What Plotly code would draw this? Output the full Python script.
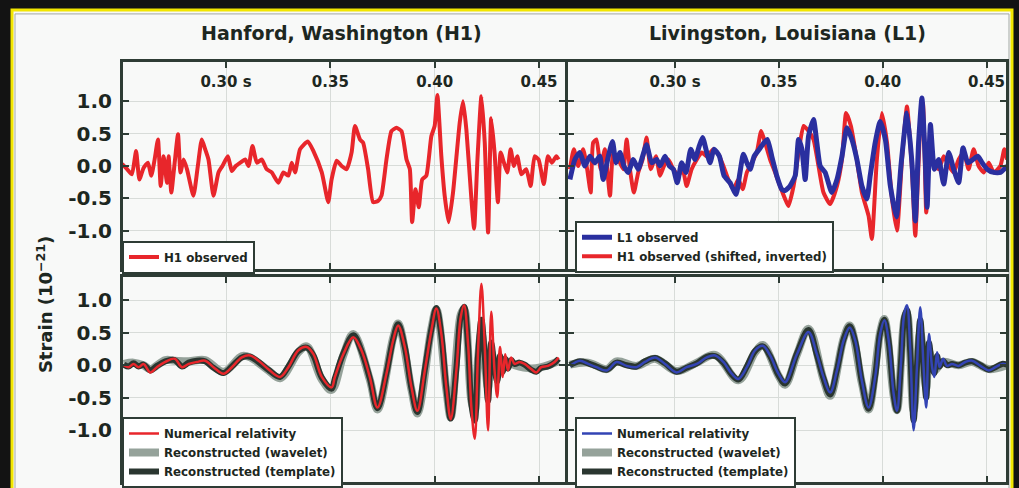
import plotly.graph_objects as go

# ---------------- data (time in s, strain in 1e-21) ----------------
X_TICKS = [0.30, 0.35, 0.40, 0.45]
X_TICK_TEXT = ["0.30 s", "0.35", "0.40", "0.45"]
Y_TICKS = [1.0, 0.5, 0.0, -0.5, -1.0]
Y_TICK_TEXT = ["1.0", "0.5", "0.0", "-0.5", "-1.0"]

H1_OBSERVED = [
    (0.2502, 0.03), (0.2526, -0.05), (0.2549, -0.13), (0.2569, 0.23), (0.2585, -0.21), (0.2605, -0.03),
    (0.2626, 0.05), (0.2642, -0.15), (0.2658, 0.10), (0.2674, 0.41), (0.2687, -0.31), (0.2701, 0.15),
    (0.2717, -0.26), (0.2725, 0.15), (0.2738, -0.41), (0.2754, 0.05), (0.2770, 0.49), (0.2782, -0.10),
    (0.2797, 0.10), (0.2813, -0.05), (0.2844, -0.46), (0.2865, 0.0), (0.2884, 0.41), (0.2900, 0.26),
    (0.2916, 0.10), (0.2940, -0.46), (0.2964, -0.10), (0.2983, 0.0), (0.3009, 0.15), (0.3028, -0.08),
    (0.3047, 0.0), (0.3068, 0.05), (0.3092, 0.10), (0.3108, 0.0), (0.3127, 0.31), (0.3148, 0.05),
    (0.3171, 0.10), (0.3195, -0.05), (0.3219, -0.10), (0.3251, -0.26), (0.3275, -0.10), (0.3299, -0.15),
    (0.3315, 0.05), (0.3331, -0.10), (0.3355, 0.26), (0.3392, 0.38), (0.3419, 0.23), (0.3459, -0.10),
    (0.3490, -0.56), (0.3506, -0.21), (0.3530, 0.08), (0.3554, 0.0), (0.3578, -0.05), (0.3602, 0.21),
    (0.3618, 0.62), (0.3642, 0.41), (0.3657, 0.36), (0.3681, -0.05), (0.3705, -0.56), (0.3729, -0.54),
    (0.3745, -0.46), (0.3769, 0.10), (0.3793, 0.54), (0.3817, 0.59), (0.3841, 0.54), (0.3865, 0.10),
    (0.3881, -0.05), (0.3892, -0.87), (0.3908, -0.36), (0.3924, -0.64), (0.3940, -0.21), (0.3960, -0.15),
    (0.3984, 0.46), (0.4000, 0.62), (0.4013, 1.10), (0.4032, 0.15), (0.4048, -0.46), (0.4067, -0.87),
    (0.4088, -0.41), (0.4120, 0.67), (0.4136, 1.00), (0.4152, 0.56), (0.4176, -0.51), (0.4189, -0.97),
    (0.4205, 0.10), (0.4224, 1.08), (0.4240, 0.36), (0.4256, -1.03), (0.4271, 0.74), (0.4287, 0.21),
    (0.4303, -0.56), (0.4316, 0.21), (0.4332, 0.05), (0.4348, -0.10), (0.4364, 0.26), (0.4380, 0.0),
    (0.4396, 0.15), (0.4415, -0.13), (0.4439, -0.05), (0.4460, -0.31), (0.4479, 0.15), (0.4498, 0.10),
    (0.4523, -0.28), (0.4543, 0.15), (0.4562, 0.05), (0.4583, 0.15), (0.4594, 0.10),
]

L1_OBSERVED = [
    (0.2494, -0.21), (0.2518, 0.10), (0.2542, 0.21), (0.2566, 0.0), (0.2590, 0.15), (0.2614, 0.05),
    (0.2638, 0.15), (0.2654, -0.21), (0.2679, 0.15), (0.2699, 0.38), (0.2716, 0.05), (0.2735, 0.21),
    (0.2754, 0.0), (0.2775, -0.10), (0.2799, 0.10), (0.2823, -0.05), (0.2844, 0.15), (0.2863, 0.33),
    (0.2888, 0.05), (0.2912, 0.10), (0.2928, 0.0), (0.2952, 0.15), (0.2973, 0.0), (0.2992, -0.05),
    (0.3011, -0.26), (0.3032, 0.05), (0.3053, -0.10), (0.3076, 0.26), (0.3096, 0.10), (0.3117, 0.31),
    (0.3133, 0.44), (0.3153, 0.21), (0.3169, 0.05), (0.3188, 0.26), (0.3214, 0.15), (0.3236, -0.15),
    (0.3265, -0.26), (0.3294, -0.44), (0.3313, -0.10), (0.3329, 0.18), (0.3346, 0.05), (0.3362, -0.05),
    (0.3381, 0.15), (0.3406, 0.26), (0.3429, 0.36), (0.3445, 0.41), (0.3466, 0.15), (0.3490, -0.15),
    (0.3514, -0.36), (0.3530, -0.38), (0.3554, -0.31), (0.3579, -0.15), (0.3595, 0.41), (0.3611, 0.26),
    (0.3627, -0.21), (0.3643, 0.46), (0.3667, 0.72), (0.3683, 0.36), (0.3699, 0.0), (0.3723, -0.10),
    (0.3755, -0.41), (0.3780, -0.21), (0.3804, 0.15), (0.3828, 0.59), (0.3852, 0.41), (0.3876, 0.10),
    (0.3900, -0.31), (0.3924, -0.51), (0.3940, -0.15), (0.3964, 0.36), (0.3988, 0.69), (0.4013, 0.41),
    (0.4037, -0.31), (0.4066, -0.79), (0.4088, 0.0), (0.4117, 0.82), (0.4141, 0.05), (0.4157, -0.85),
    (0.4173, 0.36), (0.4189, 1.05), (0.4205, 0.10), (0.4214, -0.64), (0.4230, 0.64), (0.4249, -0.05),
    (0.4270, 0.10), (0.4294, -0.28), (0.4318, 0.21), (0.4342, -0.05), (0.4366, -0.26), (0.4387, 0.28),
    (0.4410, 0.05), (0.4435, 0.10), (0.4458, 0.15), (0.4479, 0.05), (0.4503, -0.05), (0.4535, -0.10),
    (0.4567, -0.10), (0.4599, 0.0),
]

H1_SHIFTED_INVERTED = [
    (0.2494, -0.05), (0.2513, 0.26), (0.2534, 0.0), (0.2558, 0.26), (0.2577, -0.05), (0.2594, -0.41),
    (0.2606, 0.36), (0.2622, 0.41), (0.2642, -0.05), (0.2662, 0.26), (0.2687, -0.46), (0.2703, 0.21),
    (0.2727, 0.10), (0.2751, -0.05), (0.2767, 0.41), (0.2783, -0.05), (0.2802, -0.41), (0.2823, -0.10),
    (0.2844, 0.10), (0.2863, 0.44), (0.2883, -0.05), (0.2908, 0.15), (0.2928, -0.15), (0.2947, 0.0),
    (0.2968, 0.10), (0.2992, -0.05), (0.3016, -0.15), (0.3037, -0.05), (0.3056, -0.31), (0.3080, -0.05),
    (0.3105, 0.10), (0.3129, 0.21), (0.3153, 0.15), (0.3185, 0.26), (0.3209, 0.18), (0.3233, 0.0),
    (0.3257, -0.21), (0.3281, -0.36), (0.3305, -0.21), (0.3326, -0.36), (0.3346, -0.10), (0.3370, 0.05),
    (0.3394, 0.21), (0.3415, 0.54), (0.3434, 0.36), (0.3458, 0.10), (0.3482, -0.10), (0.3506, -0.31),
    (0.3530, -0.51), (0.3546, -0.62), (0.3571, -0.31), (0.3595, 0.21), (0.3619, 0.62), (0.3643, 0.54),
    (0.3667, 0.41), (0.3691, 0.0), (0.3715, -0.41), (0.3747, -0.59), (0.3780, -0.31), (0.3804, 0.10),
    (0.3824, 0.82), (0.3847, 0.62), (0.3873, 0.15), (0.3900, -0.41), (0.3932, -0.77), (0.3948, -1.13),
    (0.3972, 0.10), (0.3996, 0.82), (0.4021, 0.36), (0.4045, -0.51), (0.4069, -1.00), (0.4093, 0.10),
    (0.4117, 0.92), (0.4141, -0.05), (0.4157, -1.08), (0.4181, 0.62), (0.4194, 0.97), (0.4210, -0.72),
    (0.4226, 0.21), (0.4246, 0.05), (0.4270, -0.05), (0.4294, 0.15), (0.4318, 0.0), (0.4342, -0.10),
    (0.4366, 0.10), (0.4390, 0.21), (0.4414, -0.05), (0.4438, 0.26), (0.4462, 0.0), (0.4487, -0.10),
    (0.4511, 0.05), (0.4535, -0.10), (0.4567, 0.0), (0.4586, 0.26), (0.4599, 0.10),
]

H1_NR = [
    (0.2510, 0.0), (0.2533, -0.03), (0.2557, 0.02), (0.2581, -0.03), (0.2605, 0.02), (0.2637, -0.11),
    (0.2669, -0.03), (0.2709, 0.05), (0.2754, 0.10), (0.2789, -0.03), (0.2821, 0.02), (0.2860, 0.05),
    (0.2900, 0.07), (0.2940, -0.03), (0.2988, -0.13), (0.3028, -0.03), (0.3076, 0.12), (0.3116, 0.15),
    (0.3156, 0.07), (0.3203, -0.06), (0.3259, -0.18), (0.3299, -0.03), (0.3347, 0.23), (0.3387, 0.28),
    (0.3419, 0.17), (0.3459, -0.18), (0.3506, -0.34), (0.3522, -0.18), (0.3562, 0.17), (0.3610, 0.43),
    (0.3649, 0.23), (0.3689, -0.18), (0.3726, -0.65), (0.3769, -0.13), (0.3801, 0.38), (0.3825, 0.61),
    (0.3857, 0.28), (0.3889, -0.34), (0.3917, -0.70), (0.3953, -0.08), (0.3984, 0.53), (0.4008, 0.87),
    (0.4032, 0.48), (0.4056, -0.34), (0.4077, -0.83), (0.4104, -0.08), (0.4125, 0.74), (0.4141, 0.92),
    (0.4160, 0.33), (0.4176, -0.65), (0.4192, -1.13), (0.4208, 0.23), (0.4224, 1.25), (0.4240, 0.28),
    (0.4256, -1.00), (0.4271, 0.82), (0.4287, -0.08), (0.4300, -0.49), (0.4313, 0.28), (0.4326, -0.18),
    (0.4338, 0.17), (0.4351, -0.08), (0.4367, 0.12), (0.4383, 0.02), (0.4407, 0.05), (0.4431, 0.02),
    (0.4463, -0.06), (0.4487, -0.11), (0.4511, -0.03), (0.4543, -0.01), (0.4575, 0.05), (0.4594, 0.12),
]

H1_TEMPLATE = [
    (0.2510, 0.01), (0.2533, -0.02), (0.2557, 0.03), (0.2581, -0.02), (0.2605, 0.01), (0.2637, -0.08),
    (0.2669, -0.01), (0.2709, 0.06), (0.2754, 0.08), (0.2789, -0.02), (0.2821, 0.04), (0.2860, 0.07),
    (0.2900, 0.06), (0.2940, -0.04), (0.2988, -0.12), (0.3028, -0.02), (0.3076, 0.12), (0.3116, 0.13),
    (0.3156, 0.05), (0.3203, -0.07), (0.3259, -0.18), (0.3299, -0.02), (0.3347, 0.22), (0.3387, 0.27),
    (0.3419, 0.15), (0.3459, -0.19), (0.3506, -0.36), (0.3522, -0.20), (0.3562, 0.18), (0.3610, 0.46),
    (0.3649, 0.22), (0.3689, -0.20), (0.3726, -0.66), (0.3769, -0.12), (0.3801, 0.40), (0.3825, 0.63),
    (0.3857, 0.28), (0.3889, -0.36), (0.3917, -0.72), (0.3953, -0.06), (0.3984, 0.55), (0.4008, 0.88),
    (0.4032, 0.46), (0.4056, -0.36), (0.4077, -0.82), (0.4104, -0.05), (0.4125, 0.76), (0.4141, 0.90),
    (0.4160, 0.30), (0.4176, -0.60), (0.4192, -0.85), (0.4208, 0.15), (0.4224, 0.70), (0.4240, 0.15),
    (0.4256, -0.55), (0.4271, 0.35), (0.4287, -0.05), (0.4300, -0.25), (0.4313, 0.15), (0.4326, -0.10),
    (0.4338, 0.10), (0.4351, -0.05), (0.4367, 0.08), (0.4383, 0.02), (0.4407, 0.04), (0.4431, 0.01),
    (0.4463, -0.07), (0.4487, -0.10), (0.4511, -0.04), (0.4543, -0.02), (0.4575, 0.04), (0.4594, 0.10),
]

H1_WAVELET = [
    (0.2510, 0.02), (0.2557, 0.04), (0.2605, 0.0), (0.2637, -0.06), (0.2709, 0.08), (0.2754, 0.07),
    (0.2821, 0.06), (0.2900, 0.08), (0.2988, -0.10), (0.3076, 0.14), (0.3116, 0.12), (0.3203, -0.08),
    (0.3259, -0.20), (0.3347, 0.20), (0.3387, 0.29), (0.3459, -0.22), (0.3506, -0.38), (0.3562, 0.15),
    (0.3610, 0.48), (0.3689, -0.22), (0.3726, -0.68), (0.3801, 0.42), (0.3825, 0.64), (0.3889, -0.38),
    (0.3917, -0.74), (0.3984, 0.56), (0.4008, 0.86), (0.4056, -0.38), (0.4077, -0.80), (0.4125, 0.78),
    (0.4141, 0.86), (0.4176, -0.55), (0.4192, -0.70), (0.4208, 0.10), (0.4224, 0.50), (0.4256, -0.35),
    (0.4271, 0.20), (0.4300, -0.12), (0.4338, 0.06), (0.4383, 0.0), (0.4463, -0.05), (0.4511, -0.03),
    (0.4594, 0.06),
]

L1_NR = [
    (0.2494, -0.01), (0.2542, 0.07), (0.2582, 0.02), (0.2622, -0.03), (0.2671, -0.08), (0.2719, 0.05),
    (0.2767, -0.01), (0.2815, -0.03), (0.2855, 0.05), (0.2904, 0.12), (0.2952, 0.02), (0.3008, -0.11),
    (0.3056, -0.03), (0.3105, 0.02), (0.3153, 0.12), (0.3193, 0.15), (0.3233, 0.05), (0.3273, -0.13),
    (0.3305, -0.21), (0.3346, -0.03), (0.3386, 0.23), (0.3423, 0.30), (0.3458, 0.15), (0.3498, -0.13),
    (0.3530, -0.26), (0.3587, 0.17), (0.3643, 0.51), (0.3683, 0.17), (0.3715, -0.18), (0.3747, -0.42),
    (0.3780, -0.08), (0.3812, 0.38), (0.3841, 0.58), (0.3868, 0.38), (0.3900, -0.24), (0.3932, -0.65),
    (0.3964, -0.18), (0.3988, 0.48), (0.4008, 0.69), (0.4029, 0.38), (0.4053, -0.44), (0.4069, -0.70),
    (0.4088, 0.02), (0.4104, 0.79), (0.4117, 0.92), (0.4133, 0.23), (0.4149, -1.00), (0.4165, -0.03),
    (0.4181, 0.89), (0.4197, -0.03), (0.4210, -0.65), (0.4223, 0.48), (0.4238, -0.03), (0.4249, -0.18),
    (0.4262, 0.20), (0.4274, -0.03), (0.4291, 0.10), (0.4310, -0.01), (0.4334, 0.02), (0.4366, -0.01),
    (0.4398, 0.05), (0.4431, 0.07), (0.4471, -0.01), (0.4511, -0.08), (0.4543, -0.03), (0.4575, 0.02),
    (0.4599, 0.01),
]

L1_TEMPLATE = [
    (0.2494, 0.0), (0.2542, 0.06), (0.2582, 0.03), (0.2622, -0.02), (0.2671, -0.07), (0.2719, 0.04),
    (0.2767, 0.0), (0.2815, -0.02), (0.2855, 0.06), (0.2904, 0.11), (0.2952, 0.03), (0.3008, -0.10),
    (0.3056, -0.04), (0.3105, 0.03), (0.3153, 0.13), (0.3193, 0.14), (0.3233, 0.04), (0.3273, -0.14),
    (0.3305, -0.22), (0.3346, -0.02), (0.3386, 0.22), (0.3423, 0.29), (0.3458, 0.14), (0.3498, -0.15),
    (0.3530, -0.28), (0.3587, 0.18), (0.3643, 0.54), (0.3683, 0.16), (0.3715, -0.20), (0.3747, -0.45),
    (0.3780, -0.07), (0.3812, 0.40), (0.3841, 0.60), (0.3868, 0.36), (0.3900, -0.26), (0.3932, -0.67),
    (0.3964, -0.16), (0.3988, 0.50), (0.4008, 0.70), (0.4029, 0.36), (0.4053, -0.46), (0.4069, -0.70),
    (0.4088, 0.03), (0.4104, 0.74), (0.4117, 0.85), (0.4133, 0.20), (0.4149, -0.85), (0.4165, -0.03),
    (0.4181, 0.70), (0.4197, -0.02), (0.4210, -0.50), (0.4223, 0.35), (0.4238, -0.02), (0.4249, -0.12),
    (0.4262, 0.14), (0.4274, -0.02), (0.4291, 0.07), (0.4310, 0.0), (0.4334, 0.02), (0.4366, 0.0),
    (0.4398, 0.04), (0.4431, 0.06), (0.4471, 0.0), (0.4511, -0.07), (0.4543, -0.03), (0.4575, 0.02),
    (0.4599, 0.01),
]

L1_WAVELET = [
    (0.2494, 0.01), (0.2582, 0.04), (0.2671, -0.06), (0.2719, 0.06), (0.2815, -0.01), (0.2904, 0.10),
    (0.3008, -0.09), (0.3105, 0.04), (0.3193, 0.16), (0.3305, -0.23), (0.3386, 0.20), (0.3423, 0.31),
    (0.3498, -0.16), (0.3530, -0.30), (0.3587, 0.16), (0.3643, 0.56), (0.3715, -0.22), (0.3747, -0.47),
    (0.3812, 0.41), (0.3841, 0.61), (0.3900, -0.28), (0.3932, -0.68), (0.3988, 0.51), (0.4008, 0.71),
    (0.4053, -0.47), (0.4069, -0.69), (0.4104, 0.70), (0.4117, 0.80), (0.4149, -0.70), (0.4181, 0.50),
    (0.4210, -0.35), (0.4223, 0.22), (0.4249, -0.08), (0.4291, 0.05), (0.4366, 0.0), (0.4431, 0.05),
    (0.4511, -0.06), (0.4599, 0.0),
]

# ---------------- styling ----------------
W, H = 1019, 488
FONT = "DejaVu Sans"
FRAME = "#2e3c35"
GRID = "#d8dcd9"
TEXT = "#1d2721"
RED = "#e8262b"
BLUE_OBS = "#2a2f9f"
BLUE_NR = "#3344b4"
GRAY = "#95a29a"
DARK = "#2a3630"
CARD = "#f8f9f8"


def fx(p):
    return p / W


def fy(p):
    return 1 - p / H


def xs(d):
    return [p[0] for p in d]


def ys(d):
    return [p[1] for p in d]


fig = go.Figure()

OBS_LINE = dict(shape="spline", smoothing=0.5)
SMOOTH = dict(shape="spline", smoothing=1.0)

# top-left: H1 observed
fig.add_trace(go.Scatter(x=xs(H1_OBSERVED), y=ys(H1_OBSERVED), mode="lines", name="H1 observed",
                         line=dict(color=RED, width=4, **OBS_LINE), xaxis="x", yaxis="y", legend="legend"))
# top-right: H1 shifted inverted (under) and L1 observed
fig.add_trace(go.Scatter(x=xs(H1_SHIFTED_INVERTED), y=ys(H1_SHIFTED_INVERTED), mode="lines",
                         name="H1 observed (shifted, inverted)", legendrank=2,
                         line=dict(color=RED, width=4, **OBS_LINE), xaxis="x2", yaxis="y2", legend="legend2"))
fig.add_trace(go.Scatter(x=xs(L1_OBSERVED), y=ys(L1_OBSERVED), mode="lines", name="L1 observed",
                         legendrank=1, line=dict(color=BLUE_OBS, width=5, **OBS_LINE), xaxis="x2", yaxis="y2",
                         legend="legend2"))
# bottom-left
fig.add_trace(go.Scatter(x=xs(H1_WAVELET), y=ys(H1_WAVELET), mode="lines", name="Reconstructed (wavelet)",
                         legendrank=2, line=dict(color=GRAY, width=8, **SMOOTH),
                         xaxis="x3", yaxis="y3", legend="legend3"))
fig.add_trace(go.Scatter(x=xs(H1_TEMPLATE), y=ys(H1_TEMPLATE), mode="lines", name="Reconstructed (template)",
                         legendrank=3, line=dict(color=DARK, width=6, **SMOOTH),
                         xaxis="x3", yaxis="y3", legend="legend3"))
fig.add_trace(go.Scatter(x=xs(H1_NR), y=ys(H1_NR), mode="lines", name="Numerical relativity",
                         legendrank=1, line=dict(color=RED, width=2.5, **SMOOTH),
                         xaxis="x3", yaxis="y3", legend="legend3"))
# bottom-right
fig.add_trace(go.Scatter(x=xs(L1_WAVELET), y=ys(L1_WAVELET), mode="lines", name="Reconstructed (wavelet)",
                         legendrank=2, line=dict(color=GRAY, width=8, **SMOOTH),
                         xaxis="x4", yaxis="y4", legend="legend4"))
fig.add_trace(go.Scatter(x=xs(L1_TEMPLATE), y=ys(L1_TEMPLATE), mode="lines", name="Reconstructed (template)",
                         legendrank=3, line=dict(color=DARK, width=6, **SMOOTH),
                         xaxis="x4", yaxis="y4", legend="legend4"))
fig.add_trace(go.Scatter(x=xs(L1_NR), y=ys(L1_NR), mode="lines", name="Numerical relativity",
                         legendrank=1, line=dict(color=BLUE_NR, width=2.5, **SMOOTH),
                         xaxis="x4", yaxis="y4", legend="legend4"))

LEFT_DOM = [fx(123), fx(565)]
RIGHT_DOM = [fx(568), fx(1006)]
TOP_DOM = [fy(271), fy(62)]
BOT_DOM = [fy(485), fy(279)]
LEFT_RANGE = [0.25064, 0.46246]
RIGHT_RANGE = [0.24848, 0.45939]
TOP_YRANGE = [-1.60, 1.615]
BOT_YRANGE = [-1.794, 1.351]


def xaxis(dom, rng, labels, anchor):
    d = dict(domain=dom, range=rng, anchor=anchor, showline=True, linecolor=FRAME, linewidth=3,
             mirror="allticks", ticks="inside", ticklen=6, tickwidth=2, tickcolor=FRAME,
             showgrid=True, gridcolor=GRID, gridwidth=1, zeroline=False,
             tickvals=X_TICKS, ticktext=X_TICK_TEXT, automargin=False, fixedrange=True)
    if labels:
        d.update(side="top", ticklabelposition="inside", showticklabels=True, ticklabelstandoff=9,
                 tickfont=dict(family=FONT, size=15, color=TEXT, weight="bold"))
    else:
        d.update(showticklabels=False)
    return d


def yaxis(dom, rng, labels, anchor):
    d = dict(domain=dom, range=rng, anchor=anchor, showline=True, linecolor=FRAME, linewidth=3,
             mirror="allticks", ticks="inside", ticklen=6, tickwidth=2, tickcolor=FRAME,
             showgrid=True, gridcolor=GRID, gridwidth=1, zeroline=False,
             tickvals=Y_TICKS, ticktext=Y_TICK_TEXT, automargin=False, fixedrange=True,
             showticklabels=labels, ticklabelstandoff=4,
             tickfont=dict(family=FONT, size=20, color=TEXT, weight="bold"))
    return d


def legend_cfg(xp, yp):
    return dict(x=fx(xp), y=fy(yp), xanchor="left", yanchor="top", bgcolor="#ffffff",
                bordercolor=FRAME, borderwidth=2, tracegroupgap=0, itemwidth=30,
                font=dict(family=FONT, size=11.8, color=TEXT, weight="bold"))


fig.update_layout(
    width=W, height=H, autosize=False,
    margin=dict(l=0, r=0, t=0, b=0, pad=0),
    paper_bgcolor="#131313", plot_bgcolor=CARD,
    showlegend=True,
    xaxis=xaxis(LEFT_DOM, LEFT_RANGE, True, "y"),
    yaxis=yaxis(TOP_DOM, TOP_YRANGE, True, "x"),
    xaxis2=xaxis(RIGHT_DOM, RIGHT_RANGE, True, "y2"),
    yaxis2=yaxis(TOP_DOM, TOP_YRANGE, False, "x2"),
    xaxis3=xaxis(LEFT_DOM, LEFT_RANGE, False, "y3"),
    yaxis3=yaxis(BOT_DOM, BOT_YRANGE, True, "x3"),
    xaxis4=xaxis(RIGHT_DOM, RIGHT_RANGE, False, "y4"),
    yaxis4=yaxis(BOT_DOM, BOT_YRANGE, False, "x4"),
    legend=legend_cfg(122, 242),
    legend2=legend_cfg(575, 222),
    legend3=legend_cfg(122, 420),
    legend4=legend_cfg(575, 420),
    shapes=[
        dict(type="rect", xref="paper", yref="paper", x0=fx(12), x1=fx(1012), y0=-0.05, y1=fy(10),
             line=dict(color="#f2e600", width=3), fillcolor=CARD, layer="below"),
        dict(type="rect", xref="paper", yref="paper", x0=fx(15), x1=fx(1009), y0=-0.05, y1=fy(14),
             line=dict(color="#a3a8a4", width=1), fillcolor="rgba(0,0,0,0)", layer="below"),
    ],
    annotations=[
        dict(text="Hanford, Washington (H1)", x=fx(341), y=fy(33), xref="paper", yref="paper",
             showarrow=False, xanchor="center", yanchor="middle",
             font=dict(family=FONT, size=19, color=TEXT, weight="bold")),
        dict(text="Livingston, Louisiana (L1)", x=fx(787), y=fy(33), xref="paper", yref="paper",
             showarrow=False, xanchor="center", yanchor="middle",
             font=dict(family=FONT, size=19, color=TEXT, weight="bold")),
        dict(text="Strain (10<sup>−21</sup>)", x=fx(45), y=fy(307), xref="paper", yref="paper",
             showarrow=False, textangle=-90, xanchor="center", yanchor="middle",
             font=dict(family=FONT, size=18, color=TEXT, weight="bold")),
    ],
)

fig.write_html("out.html", config={"displayModeBar": False},
               post_script="document.body.style.margin='0';document.body.style.padding='0';"
                           "document.body.style.background='#131313';")
